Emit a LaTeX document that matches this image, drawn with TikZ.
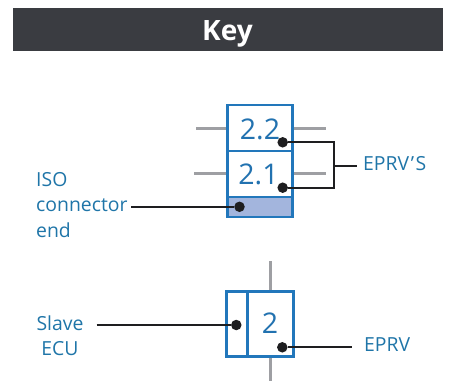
\documentclass[tikz,border=0pt]{standalone}
\usepackage{fontspec}
\setmainfont{Open Sans}
\definecolor{hdr}{HTML}{3A3C41}
\definecolor{boxblue}{HTML}{2277BB}
\definecolor{lab}{HTML}{1F75A8}
\definecolor{numc}{HTML}{2272B0}
\definecolor{fillb}{HTML}{A3B5DD}
\definecolor{wire}{HTML}{9E9FA3}
\definecolor{ink}{HTML}{1E1E20}
\tikzset{
  cell/.style={draw=boxblue,line width=2.8pt,inner sep=0pt,outer sep=0pt,fill=white},
  labeltext/.style={text=lab,font=\fontsize{19.4}{20}\selectfont,inner sep=0pt,anchor=base west},
  labelmid/.style={text=lab,font=\fontsize{19.4}{20}\selectfont,inner sep=0pt,anchor=base},
  num/.style={text=numc,font=\fontsize{28.5}{29}\selectfont,inner sep=0pt,anchor=base},
  dot/.style={circle,fill=ink,inner sep=0pt,minimum size=10.5pt,outer sep=0pt},
  stub/.style={draw=wire,line width=3pt},
  lead/.style={draw=ink,line width=1.9pt},
}
\begin{document}
\begin{tikzpicture}[x=1pt,y=-1pt]
\useasboundingbox (0,0) rectangle (451,381);
% header
\node[fill=hdr,minimum width=430pt,minimum height=43pt,inner sep=0pt,outer sep=0pt] (header) at (228,29.5) {};
\node[text=white,font=\bfseries\fontsize{28}{28}\selectfont,inner sep=0pt,anchor=base] (key) at (227.5,40) {Key};
% upper symbol: wires
\coordinate (a1) at (196,128.5);
\coordinate (a2) at (326,128.5);
\coordinate (b1) at (194,173.7);
\coordinate (b2) at (326,173.7);
\draw[stub] (a1) -- (a2);
\draw[stub] (b1) -- (b2);
% upper symbol: cells
\node[cell,minimum width=64.5pt,minimum height=46pt] (c22) at (260,128) {};
\node[cell,minimum width=64.5pt,minimum height=46pt] (c21) at (260,174) {};
\node[cell,fill=fillb,minimum width=64.5pt,minimum height=20pt] (c0) at (260,207) {};
\node[num] (t22) at (260,139.3) {2.2};
\node[num] (t21) at (258.5,184.3) {2.1};
\node[dot] (d22) at (282.7,142.3) {};
\node[dot] (d21) at (282.7,187.7) {};
\node[dot] (d0) at (239.5,206.8) {};
\coordinate (j) at (334,165.7);
\coordinate (je) at (357,165.7);
\coordinate (isoe) at (131,206.8);
\draw[lead] (d22) -| (j) |- (d21);
\draw[lead] (j) -- (je);
\draw[lead] (isoe) -- (d0);
\node[labeltext] (eprvs) at (363,170) {EPRV\kern1.6pt\symbol{39}\kern1.6pt S};
\node[labeltext] (iso) at (36,186) {ISO};
\node[labeltext] (conn) at (36,211.7) {connector};
\node[labeltext] (endt) at (36,237.3) {end};
% lower symbol
\coordinate (v1) at (270.7,261);
\coordinate (v2) at (270.7,380.7);
\draw[stub] (v1) -- (v2);
\node[cell,minimum width=66.5pt,minimum height=65pt] (main) at (260,324.2) {};
\coordinate (dv1) at (247.3,291.7);
\coordinate (dv2) at (247.3,356.7);
\draw[draw=boxblue,line width=2.8pt] (dv1) -- (dv2);
\node[num] (t2) at (270,333.3) {2};
\node[dot] (d1) at (236.3,325) {};
\node[dot] (d2) at (282.3,347.3) {};
\coordinate (se) at (96.7,325);
\coordinate (ee) at (351.7,347.3);
\draw[lead] (se) -- (d1);
\draw[lead] (d2) -- (ee);
\node[labelmid] (slave) at (60,330) {Slave};
\node[labelmid] (ecu) at (60,355.3) {ECU};
\node[labeltext] (eprv) at (364,351.7) {EPRV};
\end{tikzpicture}
\end{document}
